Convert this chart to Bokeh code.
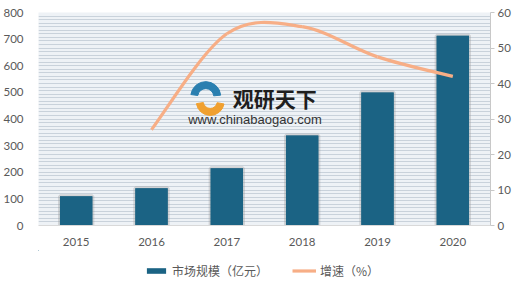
from bokeh.plotting import figure
from bokeh.layouts import column
from bokeh.models import (Range1d, LinearAxis, FixedTicker, Legend, LegendItem, Label)
from bokeh.embed import file_html
from bokeh.resources import INLINE

# ---- data ----
years = ["2015", "2016", "2017", "2018", "2019", "2020"]
market_size = [110, 140, 215, 338, 500, 713]          # 市场规模（亿元）
growth_years = ["2016", "2017", "2018", "2019", "2020"]
growth = [27, 54, 56, 47.5, 42]                         # 增速（%）
left_ticks = [0, 100, 200, 300, 400, 500, 600, 700, 800]
right_ticks = [0, 10, 20, 30, 40, 50, 60]
series_names = ["市场规模（亿元）", "增速（%）"]

BAR = "#1b6384"
LINE = "#f7ae86"
TXT = "#595959"
NUM_FONT = "Lato"
CJK_FONT = "Noto Sans CJK SC"

xs = list(range(len(years)))
gx = [years.index(y) for y in growth_years]

p = figure(width=520, height=250, x_range=Range1d(-0.5, len(years) - 0.5),
           y_range=Range1d(0, 800), output_backend="svg", toolbar_location=None,
           min_border_left=37, min_border_right=30, min_border_top=12,
           min_border_bottom=25, outline_line_color=None,
           background_fill_color="#eef2f6", border_fill_color="white")
p.extra_y_ranges = {"right": Range1d(0, 60)}
p.xgrid.visible = False

# striped background (thin horizontal stripes)
p.ygrid.ticker = FixedTicker(ticks=[i * 800 / 60 for i in range(1, 60)])
p.ygrid.grid_line_color = "#c9d2db"
p.ygrid.grid_line_width = 1

# axes
p.yaxis.ticker = FixedTicker(ticks=left_ticks)
p.yaxis.axis_line_color = None
p.yaxis.major_tick_line_color = None
p.yaxis.minor_tick_line_color = None
p.yaxis.major_label_standoff = 9
p.yaxis.major_label_text_color = TXT
p.yaxis.major_label_text_font = NUM_FONT
p.yaxis.major_label_text_font_size = "11.5px"

p.xaxis.ticker = FixedTicker(ticks=xs)
p.xaxis.major_label_overrides = {i: y for i, y in zip(xs, years)}
p.xaxis.axis_line_color = "#d9d9d9"
p.xaxis.major_tick_line_color = None
p.xaxis.minor_tick_line_color = None
p.xaxis.major_label_standoff = 6
p.xaxis.major_label_text_color = TXT
p.xaxis.major_label_text_font = NUM_FONT
p.xaxis.major_label_text_font_size = "11.5px"

ra = LinearAxis(y_range_name="right", ticker=FixedTicker(ticks=right_ticks))
ra.axis_line_color = "#c8c8c8"
ra.major_tick_line_color = "#c8c8c8"
ra.major_tick_in = 0
ra.major_tick_out = 4
ra.minor_tick_line_color = None
ra.major_label_standoff = 3
ra.major_label_text_color = TXT
ra.major_label_text_font = NUM_FONT
ra.major_label_text_font_size = "11.5px"
p.add_layout(ra, "right")

# bars with soft shadow
p.vbar(x=xs, top=market_size, width=0.43, fill_color=BAR, line_color="#9a9a9a",
       line_alpha=0.35, line_width=4)
p.vbar(x=xs, top=market_size, width=0.43, fill_color=BAR, line_color=None)

# smoothed growth line (Excel-like Catmull-Rom -> Bezier)
n = len(gx)
x0, y0, x1, y1, cx0, cy0, cx1, cy1 = [], [], [], [], [], [], [], []
for i in range(n - 1):
    a = max(i - 1, 0); d = min(i + 2, n - 1)
    x0.append(gx[i]); y0.append(growth[i])
    x1.append(gx[i + 1]); y1.append(growth[i + 1])
    cx0.append(gx[i] + (gx[i + 1] - gx[a]) / 6.0)
    cy0.append(growth[i] + (growth[i + 1] - growth[a]) / 6.0)
    cx1.append(gx[i + 1] - (gx[d] - gx[i]) / 6.0)
    cy1.append(growth[i + 1] - (growth[d] - growth[i]) / 6.0)
p.bezier(x0=x0, y0=y0, x1=x1, y1=y1, cx0=cx0, cy0=cy0, cx1=cx1, cy1=cy1,
         line_color=LINE, line_width=3.2, y_range_name="right")

# watermark
p.annular_wedge(x=[1.72], y=[484], inner_radius=8, outer_radius=15,
                inner_radius_units="screen", outer_radius_units="screen",
                start_angle=0.1, end_angle=3.0,
                color="#2a7fb0", direction="anticlock")
p.annular_wedge(x=[1.78], y=[466], inner_radius=7, outer_radius=14,
                inner_radius_units="screen", outer_radius_units="screen",
                start_angle=3.3, end_angle=6.1,
                color="#f0a030", direction="anticlock")
p.add_layout(Label(x=2.08, y=477, text="观研天下", text_font=CJK_FONT,
                   text_font_size="21px", text_font_style="bold",
                   text_color="#1e1e1e", text_baseline="middle"))
p.add_layout(Label(x=1.487, y=398, text="www.chinabaogao.com",
                   text_font="Liberation Sans", text_font_size="13px",
                   text_color="#333333", text_baseline="middle"))

# legend strip below the chart (its renderers lie outside its visible range)
lf = figure(width=520, height=36, x_range=Range1d(100, 101), y_range=Range1d(-101, -100),
            output_backend="svg", toolbar_location=None, x_axis_type=None,
            y_axis_type=None, min_border=0, outline_line_color=None,
            border_fill_color="white", background_fill_color="white")
lf.grid.visible = False
lb = lf.vbar(x=xs, top=market_size, width=0.43, fill_color=BAR, line_color=None)
ll = lf.line(x=gx, y=growth, line_color=LINE, line_width=3.2)
legend = Legend(items=[LegendItem(label=series_names[0], renderers=[lb]),
                       LegendItem(label=series_names[1], renderers=[ll])],
                orientation="horizontal", location=(106, 7),
                padding=0, margin=0, spacing=24, label_standoff=4,
                glyph_width=24, glyph_height=7,
                label_text_font=CJK_FONT, label_text_font_size="12px",
                label_text_color=TXT, background_fill_alpha=0,
                border_line_color=None)
lf.add_layout(legend, "center")

layout = column(p, lf, spacing=0)
open("out.html", "w").write(file_html(layout, INLINE))
